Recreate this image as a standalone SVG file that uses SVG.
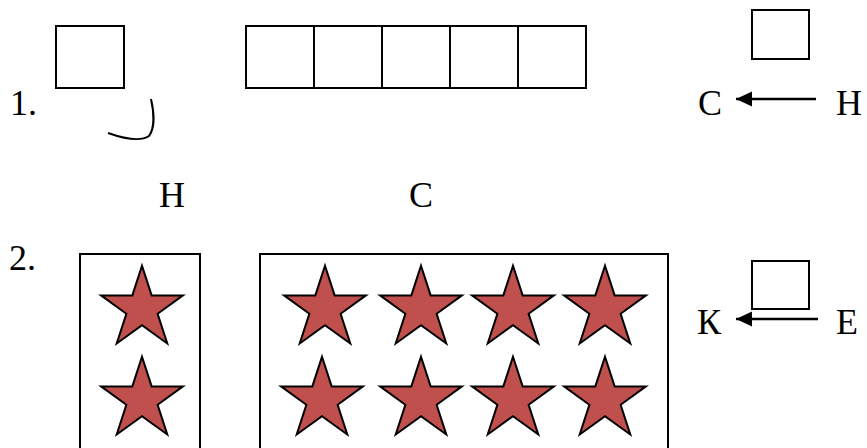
<svg xmlns="http://www.w3.org/2000/svg" width="867" height="448" viewBox="0 0 867 448">
<style>
.t{font-family:"Liberation Serif","DejaVu Serif","Times New Roman",serif;font-size:36px;fill:#000}
.b{fill:#fff;stroke:#000;stroke-width:2}
.s{fill:#C0504D;stroke:#000;stroke-width:2;stroke-linejoin:miter}
.c{fill:none;stroke:#000;stroke-width:2}
</style>
<defs>
<polygon id="star" class="s" points="0,-43 9.66,-13.29 40.9,-13.29 15.63,5.08 25.27,34.79 0,16.43 -25.27,34.79 -15.63,5.08 -40.9,-13.29 -9.66,-13.29"/>
<marker id="ah" markerWidth="17" markerHeight="16" refX="16" refY="7.5" orient="auto" markerUnits="userSpaceOnUse">
<polygon points="0,0 16,7.5 0,15" fill="#000"/>
</marker>
</defs>
<rect width="867" height="448" fill="#fff"/>
<g id="task1">
<text class="t" x="10" y="115">1.</text>
<g id="box1"><rect class="b" x="56" y="26" width="68" height="62"/></g>
<g id="hook"><path class="c" d="M108,133 C125,139 140,142 149,136 C155,128 154,112 151,99"/></g>
<g id="strip">
<rect class="b" x="246" y="26" width="68" height="62"/>
<rect class="b" x="314" y="26" width="68" height="62"/>
<rect class="b" x="382" y="26" width="68" height="62"/>
<rect class="b" x="450" y="26" width="68" height="62"/>
<rect class="b" x="518" y="26" width="68" height="62"/>
</g>
<g id="box1r"><rect class="b" x="752" y="10" width="57" height="49"/></g>
<text class="t" x="698" y="115">С</text>
<text class="t" x="836" y="115">Н</text>
<text class="t" x="159" y="207">Н</text>
<text class="t" x="409" y="207">С</text>
</g>
<g id="task2">
<text class="t" x="9" y="270">2.</text>
<g id="boxN">
<rect class="b" x="80" y="254" width="120" height="210"/>
<use href="#star" x="142" y="308.7"/>
<use href="#star" x="142" y="399.7"/>
</g>
<g id="boxC">
<rect class="b" x="260" y="254" width="408" height="210"/>
<use href="#star" x="325" y="308.7"/>
<use href="#star" x="421" y="308.7"/>
<use href="#star" x="513" y="308.7"/>
<use href="#star" x="605" y="308.7"/>
<use href="#star" x="322" y="399.7"/>
<use href="#star" x="421" y="399.7"/>
<use href="#star" x="513" y="399.7"/>
<use href="#star" x="605" y="399.7"/>
</g>
<g id="box2r"><rect class="b" x="752" y="261" width="57" height="48"/></g>
<text class="t" x="697" y="334">К</text>
<text class="t" x="836" y="334">Е</text>
</g>
<g id="connectors">
<line x1="816" y1="99" x2="736" y2="99" stroke="#000" stroke-width="2.5" marker-end="url(#ah)"/>
<line x1="818" y1="319" x2="736" y2="319" stroke="#000" stroke-width="2.5" marker-end="url(#ah)"/>
</g>
</svg>
